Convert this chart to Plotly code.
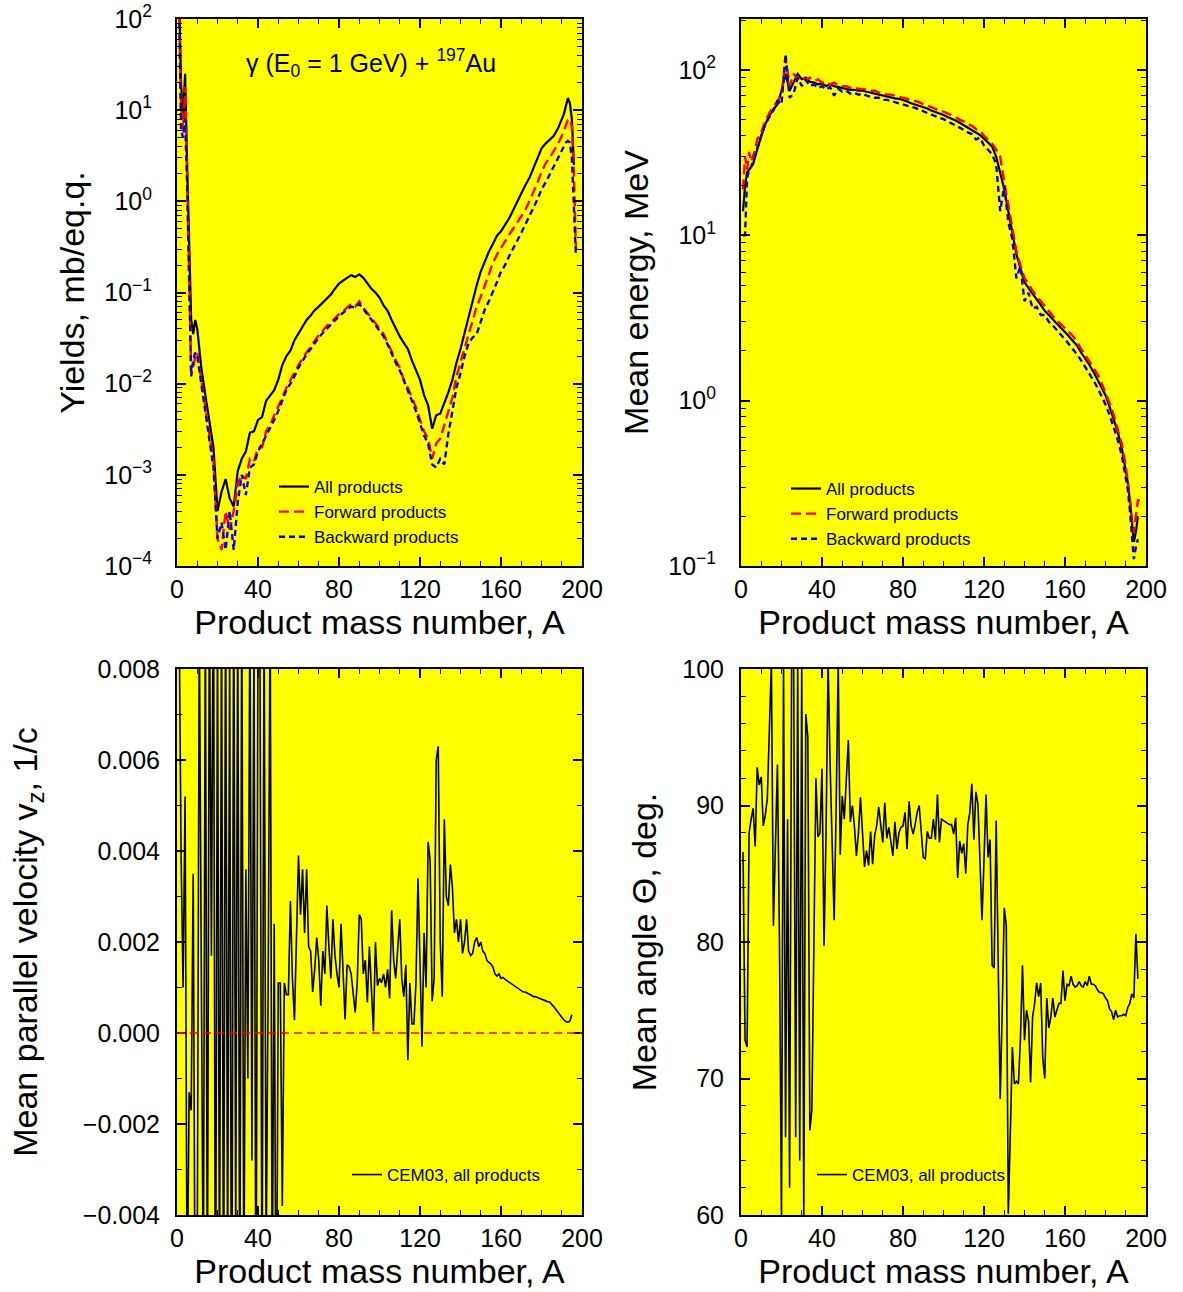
import plotly.graph_objects as go

# ---------------- data ----------------
# Product mass numbers used for the yield / energy curves (top panels)
A_top = [1, 2, 3, 4, 5, 6, 7, 8, 9, 10,
         12, 14, 16, 18, 20, 22, 24, 26, 28, 30,
         32, 34, 36, 38, 40, 42, 44, 46, 48, 50,
         52, 54, 56, 58, 60, 62, 64, 66, 68, 70,
         72, 74, 76, 78, 80, 82, 84, 86, 88, 90,
         92, 94, 96, 98, 100, 102, 104, 106, 108, 110,
         112, 114, 116, 118, 120, 122, 124, 126, 128, 130,
         132, 134, 136, 138, 140, 142, 144, 146, 148, 150,
         152, 154, 156, 158, 160, 162, 164, 166, 168, 170,
         172, 174, 176, 178, 180, 182, 184, 186, 188, 190,
         191, 192, 193, 194, 195, 196, 197]

# Yields, mb/eq.q.
yield_all = [200, 20, 8, 25, 2.5, 0.25, 0.05, 0.035, 0.05, 0.04,
             0.015, 0.0075, 0.0038, 0.002, 4e-4, 6.5e-4, 9e-4, 5.5e-4, 4.5e-4, 1.1e-3,
             1.5e-3, 1.8e-3, 2.9e-3, 3.0e-3, 4.0e-3, 4.3e-3, 6.5e-3, 7.5e-3, 8.5e-3, 0.011,
             0.016, 0.02, 0.023, 0.03, 0.036, 0.043, 0.05, 0.056, 0.064, 0.07,
             0.078, 0.085, 0.095, 0.11, 0.125, 0.135, 0.145, 0.155, 0.148, 0.158,
             0.145, 0.125, 0.11, 0.1, 0.088, 0.072, 0.063, 0.05, 0.04, 0.033,
             0.028, 0.024, 0.018, 0.014, 0.011, 0.0075, 0.0058, 0.0032, 0.0045, 0.0047,
             0.006, 0.008, 0.011, 0.017, 0.024, 0.036, 0.055, 0.08, 0.12, 0.17,
             0.22, 0.28, 0.34, 0.42, 0.47, 0.55, 0.65, 0.8, 1.0, 1.2,
             1.5, 1.8, 2.3, 3.0, 3.8, 4.3, 4.7, 5.2, 6.2, 7.8,
             9, 11, 13.5, 12, 8, 2.5, None]
yield_fwd = [150, 12, 6, 18, 2, 0.15, 0.013, 0.015, 0.02, 0.022,
             0.011, 0.006, 0.003, 0.0014, 2e-4, 1.5e-4, 4e-4, 2.5e-4, 4e-4, 8e-4,
             1e-3, 9e-4, 1.5e-3, 1.4e-3, 2e-3, 2e-3, 3e-3, 3.5e-3, 4.5e-3, 5.5e-3,
             7e-3, 9e-3, 0.011, 0.013, 0.016, 0.019, 0.022, 0.026, 0.03, 0.034,
             0.038, 0.043, 0.047, 0.052, 0.058, 0.062, 0.068, 0.075, 0.07, 0.08,
             0.068, 0.06, 0.053, 0.046, 0.04, 0.035, 0.028, 0.022, 0.018, 0.015,
             0.011, 0.009, 0.007, 0.0055, 0.004, 0.003, 0.0025, 0.0015, 0.0022, 0.0025,
             0.0035, 0.005, 0.007, 0.012, 0.017, 0.025, 0.035, 0.05, 0.07, 0.09,
             0.12, 0.16, 0.21, 0.26, 0.31, 0.37, 0.43, 0.5, 0.58, 0.68,
             0.8, 1.0, 1.25, 1.6, 2.1, 2.6, 3.0, 3.5, 4.2, 5.2,
             6, 6.8, 7.8, 8, 6.5, 2, 0.3]
yield_bwd = [150, 6, 5, 8, 1.5, 0.12, 0.012, 0.018, 0.022, 0.02,
             0.01, 0.005, 0.0025, 0.0012, 2e-4, 3e-4, 1.5e-4, 4e-4, 1.5e-4, 5e-4,
             1e-3, 6e-4, 1.2e-3, 1.3e-3, 1.8e-3, 2.2e-3, 2.6e-3, 3.2e-3, 4e-3, 5e-3,
             6.5e-3, 8.5e-3, 0.01, 0.012, 0.015, 0.018, 0.021, 0.024, 0.028, 0.032,
             0.036, 0.04, 0.045, 0.05, 0.055, 0.06, 0.065, 0.07, 0.068, 0.075,
             0.066, 0.058, 0.05, 0.044, 0.038, 0.033, 0.027, 0.021, 0.017, 0.014,
             0.011, 0.0085, 0.0065, 0.005, 0.0037, 0.0027, 0.0022, 0.0013, 0.0012, 0.0015,
             0.0013, 0.0028, 0.005, 0.009, 0.013, 0.02, 0.028, 0.032, 0.035, 0.048,
             0.065, 0.08, 0.1, 0.13, 0.17, 0.2, 0.25, 0.3, 0.37, 0.45,
             0.55, 0.68, 0.85, 1.05, 1.35, 1.6, 1.95, 2.4, 2.9, 3.6,
             4.0, 4.4, 4.6, 4.4, 3.0, 0.8, 0.25]

# Mean kinetic energy, MeV
energy_all = [14, 20, 24, 25, 26, 27, 30, 33, 37, 40,
              47, 53, 58, 62, 75, 95, 75, 85, 95, 88,
              90, 85, 84, 82, 83, 80, 82, 80, 79, 78,
              77, 76, 76, 75, 75, 74, 73, 72, 71, 70,
              69, 68, 67.5, 67, 66, 64.5, 63, 62, 61, 60,
              58.5, 57, 56, 55, 53.5, 52, 51, 49.5, 48, 46.5,
              45, 43.5, 42, 40.5, 38.5, 36.5, 34.5, 30, 24, 19,
              14, 10.5, 7.7, 6.3, 5.2, 4.8, 4.4, 4.1, 3.8, 3.5,
              3.3, 3.1, 2.9, 2.75, 2.6, 2.45, 2.3, 2.15, 1.95, 1.8,
              1.65, 1.5, 1.35, 1.2, 1.08, 0.92, 0.78, 0.65, 0.52, 0.38,
              0.32, 0.25, 0.18, 0.14, 0.16, 0.2, None]
energy_fwd = [19, 30, 25, 32, 28, 30, 33, 38, 40, 42,
              49, 55, 60, 65, 70, 118, 80, 95, 88, 92,
              87, 90, 86, 88, 84, 85, 82, 84, 81, 80,
              80, 78, 79, 77, 77, 76, 75, 75, 73, 73,
              71, 71, 70, 69, 68.5, 67, 66, 65, 64, 62,
              61, 59.5, 58.5, 57, 56, 54.5, 53, 52, 50, 49,
              47, 46, 44, 43, 40, 38, 36, 33, 30, 21,
              15, 11, 8, 6.6, 5.5, 5.1, 4.6, 4.3, 4.0, 3.7,
              3.45, 3.25, 3.05, 2.9, 2.75, 2.6, 2.45, 2.25, 2.05, 1.9,
              1.75, 1.6, 1.45, 1.28, 1.12, 0.97, 0.82, 0.68, 0.55, 0.4,
              0.33, 0.26, 0.19, 0.16, 0.2, 0.25, 0.25]
energy_bwd = [10, 10, 22, 25, 26, 28, 30, 34, 36, 40,
              47, 52, 57, 65, 62, 125, 68, 72, 90, 80,
              87, 80, 82, 78, 80, 76, 79, 70, 77, 74,
              75, 72, 73, 71, 72, 70, 69, 68, 68, 66,
              66, 65, 64, 63, 62.5, 61, 60, 59, 58, 56.5,
              55, 54, 53, 51.5, 50.5, 49, 48, 46.5, 45, 43.5,
              42, 41, 38, 39, 35, 33, 31, 27, 14, 20,
              12, 9.5, 5.5, 6.5, 4.0, 4.5, 3.6, 3.7, 3.3, 3.3,
              3.0, 2.85, 2.65, 2.5, 2.35, 2.2, 2.05, 1.9, 1.75, 1.6,
              1.47, 1.33, 1.2, 1.07, 0.95, 0.82, 0.7, 0.58, 0.47, 0.35,
              0.29, 0.22, 0.15, 0.11, 0.13, 0.145, None]

# Mean parallel velocity v_z (1/c), A = 1..195
A_vz = list(range(1, 196))
vz_all = [0.0095, 0.0040, 0.0010, 0.0052, -0.0060, -0.0013, -0.0017, 0.0035, -0.0070, -0.0050,
          0.0090, 0.0015, -0.0060, 0.0095, -0.0065, 0.0100, 0.0017, 0.0110, -0.0080, 0.0090,
          -0.0060, 0.0095, -0.0070, 0.0100, -0.0055, 0.0085, -0.0090, 0.0105, -0.0045, 0.0095,
          -0.0070, 0.0100, -0.0060, 0.0036, -0.0010, 0.0095, -0.0028, 0.0090, -0.0075, 0.0092,
          0.0080, -0.0065, 0.0095, -0.0050, 0.0009, 0.0095, -0.0060, 0.0024, -0.0080, 0.0011,
          0.0011, -0.0038, 0.0011, 0.00084, 0.00084, 0.0029, 0.0012, 0.00028, 0.0020, 0.0039,
          0.0026, 0.0036, 0.0022, 0.0036, 0.0019, 0.0018, 0.0009, 0.0014, 0.0021, 0.0016,
          0.0006, 0.0018, 0.0013, 0.0028, 0.0019, 0.0012, 0.0025, 0.0017, 0.0013, 0.0010,
          0.0024, 0.0012, 0.0003, 0.0015, 0.00146, 0.0013, 0.0009, 0.00045, 0.0011, 0.0026,
          0.0025, 0.0013, 0.0016, 0.00067, 0.0019, 0.0011, 0.00004, 0.0020, 0.00104, 0.0012,
          0.0011, 0.0013, 0.0010, 0.0014, 0.00076, 0.0027, 0.0016, 0.0012, 0.0018, 0.0025,
          0.0012, 0.0008, 0.0015, -0.0006, 0.0011, 0.0002, 0.0002, 0.0011, 0.0034, 0.0016,
          -0.0003, 0.0022, 0.0010, 0.0042, 0.0038, 0.0007, 0.0012, 0.0060, 0.0063, 0.0020,
          0.0008, 0.0047, 0.0030, 0.0028, 0.0037, 0.0032, 0.0022, 0.0025, 0.0020, 0.0025,
          0.00175, 0.0020, 0.0025, 0.0018, 0.0017, 0.00175, 0.0020, 0.0021, 0.0019, 0.0020,
          0.0018, 0.00175, 0.0016, 0.00155, 0.00152, 0.00145, 0.0013, 0.00125, 0.0013, 0.0012,
          0.00122, 0.00118, 0.00115, 0.00113, 0.0011, 0.00106, 0.00103, 0.0010, 0.00097, 0.00094,
          0.0009, 0.0009, 0.00088, 0.00085, 0.00083, 0.0008, 0.0008, 0.00078, 0.00076, 0.00074,
          0.00072, 0.0007, 0.00069, 0.00068, 0.00064, 0.00058, 0.00052, 0.00046, 0.0004, 0.00034,
          0.00029, 0.00025, 0.00024, 0.00026, 0.0004]

# Mean emission angle Theta (deg), A = 1..196
A_theta = list(range(1, 197))
theta_all = [86.6, 72.8, 72.3, 88.0, 89.0, 89.8, 87.0, 92.8, 91.5, 92.1,
             88.5, 89.3, 90.5, 95.0, 100.5, 81.2, 87.9, 93.0, 80.0, 59.5,
             100.5, 65.7, 89.0, 62.0, 100.5, 100.5, 65.7, 100.5, 64.0, 100.5,
             59.5, 96.7, 95.0, 66.2, 67.7, 79.0, 92.0, 87.7, 88.0, 92.7,
             79.7, 88.0, 100.5, 93.0, 86.0, 81.6, 90.0, 100.5, 86.4, 90.7,
             89.0, 92.0, 94.8, 88.8, 90.0, 88.5, 86.3, 88.0, 90.6, 88.0,
             85.5, 86.7, 85.6, 88.1, 85.7, 87.8, 88.5, 89.9, 88.5, 87.3,
             90.2, 87.6, 88.4, 87.5, 86.3, 88.8, 86.8, 88.0, 88.4, 88.5,
             89.5, 86.8, 90.3, 88.5, 87.9, 88.6, 89.5, 90.0, 88.0, 86.2,
             86.1, 88.1, 87.6, 87.6, 89.0, 87.5, 90.8, 87.3, 89.0, 88.9,
             88.8, 88.7, 88.6, 88.6, 87.9, 89.1, 84.7, 87.4, 86.5, 87.2,
             85.0, 88.6, 89.5, 91.6, 87.5, 91.0, 90.1, 86.0, 81.6, 86.0,
             90.8, 86.2, 87.5, 78.3, 78.1, 88.9, 80.0, 68.5, 75.0, 82.5,
             81.2, 60.1, 66.0, 72.3, 69.6, 69.8, 69.6, 72.9, 78.3, 72.8,
             75.0, 74.2, 69.7, 74.5, 75.5, 77.0, 76.0, 77.0, 71.5, 70.0,
             75.9, 73.7, 74.5, 75.9, 74.5, 75.0, 75.5, 75.5, 77.9, 75.7,
             76.9, 76.8, 77.5, 76.9, 76.7, 76.8, 77.1, 76.8, 76.7, 77.1,
             76.8, 77.5, 76.9, 76.9, 76.8, 76.5, 76.3, 76.3, 76.2, 75.9,
             75.7, 75.1, 74.9, 74.3, 75.0, 74.5, 74.6, 74.6, 74.7, 74.6,
             75.2, 75.5, 76.2, 75.9, 80.6, 77.3]

x_ticks = [0, 40, 80, 120, 160, 200]
yield_tickvals = [1e-4, 1e-3, 1e-2, 1e-1, 1, 10, 100]
yield_ticktext = ["10<sup>\u22124</sup>", "10<sup>\u22123</sup>", "10<sup>\u22122</sup>",
                  "10<sup>\u22121</sup>", "10<sup>0</sup>", "10<sup>1</sup>", "10<sup>2</sup>"]
energy_tickvals = [0.1, 1, 10, 100]
energy_ticktext = ["10<sup>\u22121</sup>", "10<sup>0</sup>", "10<sup>1</sup>", "10<sup>2</sup>"]
vz_tickvals = [-0.004, -0.002, 0.0, 0.002, 0.004, 0.006, 0.008]
vz_ticktext = ["\u22120.004", "\u22120.002", "0.000", "0.002", "0.004", "0.006", "0.008"]
theta_tickvals = [60, 70, 80, 90, 100]

series_names = ["All products", "Forward products", "Backward products"]
cem_name = "CEM03, all products"

# ---------------- figure ----------------
FONT = "Liberation Sans, Arial, sans-serif"
W, H = 1183, 1292
ML, MR, MT, MB = 177, 37, 19, 77
pw, ph = W - ML - MR, H - MT - MB
xd1 = [0, 405 / pw]
xd2 = [564 / pw, 1]
yd_top = [649 / ph, 1]
yd_bot = [0, 546 / ph]

fig = go.Figure()

styles = [dict(color="black", width=2.2, dash="solid"),
          dict(color="#ff0000", width=2.4, dash="10px,5px"),
          dict(color="#0000ff", width=2.4, dash="6px,4px")]

for name, ys, st in zip(series_names, [yield_all, yield_fwd, yield_bwd], styles):
    fig.add_trace(go.Scatter(x=A_top, y=ys, mode="lines", name=name, line=st,
                             xaxis="x", yaxis="y", legend="legend"))
for name, ys, st in zip(series_names, [energy_all, energy_fwd, energy_bwd], styles):
    fig.add_trace(go.Scatter(x=A_top, y=ys, mode="lines", name=name, line=st,
                             xaxis="x2", yaxis="y2", legend="legend2"))
fig.add_trace(go.Scatter(x=A_vz, y=vz_all, mode="lines", name=cem_name,
                         line=dict(color="black", width=1.6),
                         xaxis="x3", yaxis="y3", legend="legend3"))
fig.add_trace(go.Scatter(x=A_theta, y=theta_all, mode="lines", name=cem_name,
                         line=dict(color="black", width=1.6),
                         xaxis="x4", yaxis="y4", legend="legend4"))

tickfont = dict(family=FONT, size=25, color="black")
titlefont = dict(family=FONT, size=34, color="black")

def xaxis(domain, anchor):
    return dict(domain=domain, anchor=anchor, range=[0, 200], tickvals=x_ticks,
                automargin=False,
                ticks="inside", ticklen=9, tickwidth=1.5, tickcolor="black",
                showline=True, linewidth=2, linecolor="black", mirror="ticks",
                showgrid=False, zeroline=False, tickfont=tickfont,
                minor=dict(dtick=10, tick0=0, ticks="inside", ticklen=5, tickwidth=1.2, tickcolor="black"),
                title=dict(text="Product mass number, A", font=titlefont, standoff=6))

def yaxis_common(domain, anchor, title, standoff, labelgap):
    return dict(domain=domain, anchor=anchor, automargin=False,
                ticks="inside", ticklen=9, tickwidth=1.5, ticklabelstandoff=labelgap,
                tickcolor="black", showline=True, linewidth=2, linecolor="black",
                mirror="ticks", showgrid=False, zeroline=False, tickfont=tickfont,
                title=dict(text=title, font=titlefont, standoff=standoff))

ya1 = yaxis_common(yd_top, "x", "Yields, mb/eq.q.", 9, 18)
ya1.update(type="log", range=[-4, 2], tickvals=yield_tickvals, ticktext=yield_ticktext,
           minor=dict(dtick="D1", ticks="inside", ticklen=5, tickwidth=1.2, tickcolor="black"))
ya2 = yaxis_common(yd_top, "x2", "Mean energy, MeV", 9, 18)
ya2.update(type="log", range=[-1, 2.309], tickvals=energy_tickvals, ticktext=energy_ticktext,
           minor=dict(dtick="D1", ticks="inside", ticklen=5, tickwidth=1.2, tickcolor="black"))
ya3 = yaxis_common(yd_bot, "x3", "Mean parallel velocity v<sub>z</sub>, 1/c", 35, 10)
ya3.update(range=[-0.004, 0.008], tickvals=vz_tickvals, ticktext=vz_ticktext,
           minor=dict(dtick=0.001, tick0=0, ticks="inside", ticklen=5, tickwidth=1.2, tickcolor="black"))
ya4 = yaxis_common(yd_bot, "x4", "Mean angle \u0398, deg.", 15, 10)
ya4.update(range=[60, 100], tickvals=theta_tickvals,
           minor=dict(dtick=2, tick0=60, ticks="inside", ticklen=5, tickwidth=1.2, tickcolor="black"))

legend_common = dict(bgcolor="rgba(0,0,0,0)", borderwidth=0,
                     font=dict(family=FONT, size=17, color="black"),
                     xanchor="left", yanchor="top", tracegroupgap=0, itemwidth=30)

fig.update_layout(
    width=W, height=H, autosize=False,
    margin=dict(l=ML, r=MR, t=MT, b=MB, pad=0, autoexpand=False),
    paper_bgcolor="white", plot_bgcolor="#ffff00",
    font=dict(family=FONT, color="black"),
    xaxis=xaxis(xd1, "y"), yaxis=ya1,
    xaxis2=xaxis(xd2, "y2"), yaxis2=ya2,
    xaxis3=xaxis(xd1, "y3"), yaxis3=ya3,
    xaxis4=xaxis(xd2, "y4"), yaxis4=ya4,
    legend=dict(legend_common, x=97 / pw, y=(1215 - 469) / ph),
    legend2=dict(legend_common, x=609 / pw, y=(1215 - 471) / ph),
    legend3=dict(legend_common, x=170 / pw, y=(1215 - 1157) / ph),
    legend4=dict(legend_common, x=635 / pw, y=(1215 - 1157) / ph),
    showlegend=True,
    shapes=[dict(type="line", xref="x3", yref="y3", x0=0, x1=200, y0=0, y1=0,
                 line=dict(color="#ff0000", width=1.5, dash="8px,5px"), layer="above")],
    annotations=[dict(text="\u03b3 (E<sub>0</sub> = 1 GeV) + <sup>197</sup>Au",
                      xref="x domain", yref="y domain", x=0.48, y=0.956,
                      showarrow=False, font=dict(family=FONT, size=25, color="black"))],
)

fig.write_html("out.html", config={"displayModeBar": False},
               post_script="document.body.style.margin='0px';document.body.style.overflow='hidden';")
